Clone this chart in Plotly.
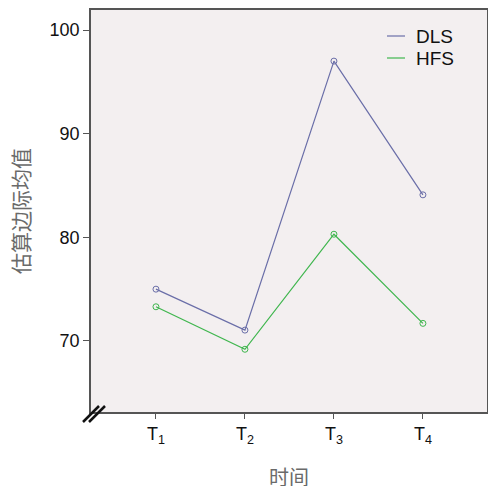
import plotly.graph_objects as go

categories = ["T<sub>1</sub>", "T<sub>2</sub>", "T<sub>3</sub>", "T<sub>4</sub>"]
x_pos = [1, 2, 3, 4]
dls = [75.0, 71.05, 97.0, 84.1]
hfs = [73.3, 69.2, 80.3, 71.7]
y_ticks = [70, 80, 90, 100]
series_names = ["DLS", "HFS"]
x_title = "时间"
y_title = "估算边际均值"

DLS_C = "#6a6ea8"
HFS_C = "#3fb64e"
colors = [DLS_C, HFS_C]

PW, PH, L, T = 396, 402, 91, 10
def px(x):
    return (x - L) / PW
def py(y):
    return (T + PH - y) / PH

fig = go.Figure()
for name, vals, col in zip(series_names, (dls, hfs), colors):
    fig.add_trace(go.Scatter(x=x_pos, y=vals, name=name, mode="lines+markers", showlegend=False,
                             line=dict(color=col, width=1.2),
                             marker=dict(symbol="circle-open", size=6, color=col, line=dict(width=1))))

# legend drawn manually (short line + label)
for i, (name, col) in enumerate(zip(series_names, colors)):
    yc = 36 + 22 * i
    fig.add_shape(type="line", xref="paper", yref="paper",
                  x0=px(387), x1=px(405), y0=py(yc), y1=py(yc),
                  line=dict(color=col, width=1.2))
    fig.add_annotation(xref="paper", yref="paper", x=px(414), y=py(yc), text=name,
                       showarrow=False, xanchor="left", yanchor="middle",
                       font=dict(size=19, color="#111"))

# x axis title placed as annotation
fig.add_annotation(xref="paper", yref="paper", x=0.5, y=py(476), text=x_title,
                   showarrow=False, xanchor="center", yanchor="middle",
                   font=dict(family="Noto Sans CJK SC", size=20, color="#6a6a6a"))

fig.update_layout(
    width=488, height=486,
    margin=dict(l=L, r=1, t=T, b=74),
    paper_bgcolor="white",
    plot_bgcolor="#f3eff0",
    font=dict(family="Liberation Sans, Arial", color="#111"),
    showlegend=False,
    xaxis=dict(range=[0.27, 4.72], tickvals=x_pos, ticktext=categories, automargin=False,
               showgrid=False, zeroline=False, showline=True, linecolor="#555",
               linewidth=1.5, mirror=True, ticks="outside", ticklen=5, tickcolor="#555",
               tickfont=dict(size=18, color="#111")),
    yaxis=dict(range=[63.15, 101.93], tickvals=y_ticks, automargin=False,
               showgrid=False, zeroline=False, showline=True, linecolor="#555",
               linewidth=1.5, mirror=True, ticks="outside", ticklen=6, tickcolor="#555",
               tickfont=dict(size=18, color="#111"),
               title=dict(text=y_title, font=dict(family="Noto Sans CJK SC", size=21, color="#6a6a6a"), standoff=14)),
)

# axis break marks at bottom-left corner
for dx in (0, 6):
    fig.add_shape(type="line", xref="paper", yref="paper",
                  x0=(-8 + dx) / PW, y0=(-10) / PH, x1=(8 + dx) / PW, y1=(6) / PH,
                  line=dict(color="#111", width=2.5))

fig.write_html("out.html", config={"displayModeBar": False},
               post_script="document.body.style.margin='0';document.body.style.overflow='hidden';")
